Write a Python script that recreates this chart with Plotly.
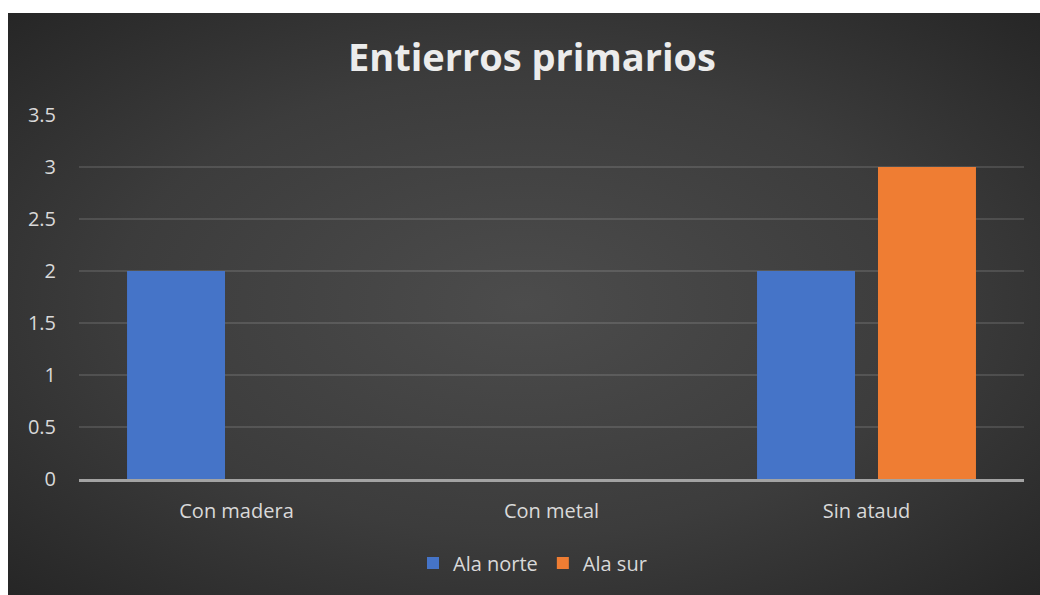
import base64
import plotly.graph_objects as go

# Chart data
categorias = ["Con madera", "Con metal", "Sin ataud"]
ala_norte = [2, 0, 2]
ala_sur = [0, 0, 3]
y_ticks = [0, 0.5, 1, 1.5, 2, 2.5, 3, 3.5]
y_tick_labels = ["0", "0.5", "1", "1.5", "2", "2.5", "3", "3.5"]

W, H = 1040, 595
L, R, T, B = 79, 16, 115, 116
plot_w = W - L - R
plot_h = H - T - B

# Dark radial-gradient panel behind the chart
svg = (
    '<svg xmlns="http://www.w3.org/2000/svg" width="1032" height="582" '
    'preserveAspectRatio="none" viewBox="0 0 1032 582">'
    '<defs><radialGradient id="g" cx="0.5" cy="0.5" r="0.72">'
    '<stop offset="0" stop-color="#4c4c4c"/>'
    '<stop offset="0.55" stop-color="#3c3c3c"/>'
    '<stop offset="1" stop-color="#252525"/>'
    '</radialGradient></defs>'
    '<rect width="1032" height="582" fill="url(#g)"/></svg>'
)
bg_src = "data:image/svg+xml;base64," + base64.b64encode(svg.encode()).decode()

panel_left, panel_top = 8, 13
img_x = (panel_left - L) / plot_w
img_w = (W - panel_left) / plot_w
img_y = (H - B - panel_top) / plot_h
img_h = (H - panel_top) / plot_h

font_family = "Open Sans, Lato, sans-serif"
text_col = "#d9d9d9"

fig = go.Figure()
fig.add_trace(go.Bar(name="Ala norte", x=categorias, y=ala_norte,
                     marker=dict(color="#4574c8", line=dict(width=0))))
fig.add_trace(go.Bar(name="Ala sur", x=categorias, y=ala_sur,
                     marker=dict(color="#ef7d33", line=dict(width=0))))

fig.update_layout(
    width=W, height=H,
    margin=dict(l=L, r=R, t=T, b=B),
    paper_bgcolor="white",
    plot_bgcolor="rgba(0,0,0,0)",
    barmode="group",
    bargap=0.232,
    bargroupgap=0.19,
    font=dict(family=font_family, color=text_col, size=20),
    title=dict(
        text="<b>Entierros primarios</b>",
        font=dict(family=font_family, size=38, color="#ececec"),
        x=532 / W, xref="container", xanchor="center",
        y=(H - 58) / H, yref="container", yanchor="middle",
    ),
    legend=dict(
        orientation="h", x=0.5 - 19 / plot_w, xanchor="center",
        y=(H - B - 563) / plot_h, yanchor="middle",
        font=dict(size=20, color=text_col),
        bgcolor="rgba(0,0,0,0)",
        itemwidth=30,
    ),
    images=[dict(
        source=bg_src, xref="paper", yref="paper",
        x=img_x, y=img_y, sizex=img_w, sizey=img_h,
        xanchor="left", yanchor="top", sizing="stretch", layer="below",
    )],
)

fig.update_xaxes(
    showgrid=False, showline=True, linecolor="#a3a3a3", linewidth=2.5,
    ticks="", ticklabelstandoff=12,
    tickfont=dict(size=20, color=text_col),
)
fig.update_yaxes(
    range=[0, 3.5], tickvals=y_ticks, ticktext=y_tick_labels,
    showgrid=True, gridcolor="rgba(255,255,255,0.12)", gridwidth=1.5,
    zeroline=False, showline=False, ticks="", ticklabelstandoff=22,
    tickfont=dict(size=20, color=text_col),
)

fig.write_html("out.html")
